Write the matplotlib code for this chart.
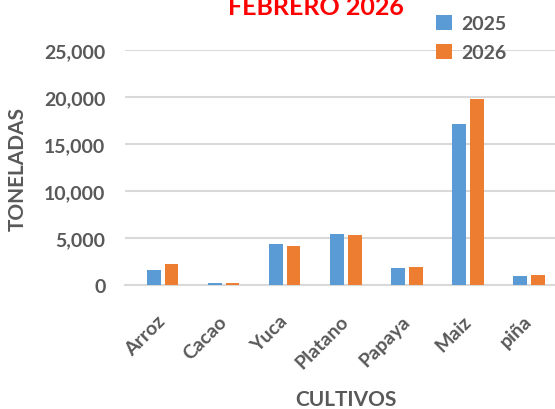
import matplotlib.pyplot as plt
import numpy as np
from matplotlib.ticker import FuncFormatter
from matplotlib.transforms import ScaledTranslation
from matplotlib.font_manager import FontProperties

plt.rcParams['font.family'] = ['Lato', 'DejaVu Sans']

cultivos = ['Arroz', 'Cacao', 'Yuca', 'Platano', 'Papaya', 'Maiz', 'piña']
t2025 = [1600, 200, 4400, 5430, 1810, 17100, 960]
t2026 = [2200, 200, 4180, 5320, 1920, 19800, 1100]

gris = '#595959'
fig = plt.figure(figsize=(5.55, 4.1), dpi=100, facecolor='w')
ax = fig.add_axes([0.225, 0.3024, 0.775, 0.5732])

x = np.arange(len(cultivos))
w = 0.22
ax.bar(x - 0.145, t2025, w, color='#5b9bd5', label='2025', zorder=3)
ax.bar(x + 0.145, t2026, w, color='#ed7d31', label='2026', zorder=3)

ax.set_ylim(0, 25000)
ax.set_xlim(-0.623, 6.426)
ax.set_yticks(np.arange(0, 25001, 5000))
ax.yaxis.set_major_formatter(FuncFormatter(lambda v, p: f'{int(v):,}'))
ax.grid(axis='y', color='#d9d9d9', linewidth=1.5, zorder=0)
for s in ['top', 'right', 'left']:
    ax.spines[s].set_visible(False)
ax.spines['bottom'].set_color('#d9d9d9')
ax.spines['bottom'].set_linewidth(1.5)
ax.tick_params(axis='both', length=0, colors=gris, labelsize=14)
ax.tick_params(axis='y', pad=14)
for lab in ax.get_yticklabels():
    lab.set_fontweight('bold')

ax.set_xticks(x)
ax.set_xticklabels(cultivos, rotation=45, ha='right', rotation_mode='anchor',
                   fontweight='bold', fontsize=14, color=gris)
off = ScaledTranslation(-6 / 100, -22 / 100, fig.dpi_scale_trans)
for lab in ax.get_xticklabels():
    lab.set_transform(lab.get_transform() + off)

ax.set_ylabel('TONELADAS', fontsize=15, fontweight='bold', color=gris, labelpad=12)
fig.text(0.623, 0.01, 'CULTIVOS', fontsize=15, fontweight='bold', color=gris, ha='center')
fig.text(0.57, 0.963, 'FEBRERO 2026', fontsize=18, fontweight='bold', color='red', ha='center')

fp = FontProperties(family='Lato', weight='bold', size=14)
leg = ax.legend(loc='upper left', bbox_to_anchor=(0.683, 1.224), frameon=False,
                prop=fp, handlelength=0.8, handleheight=0.8, handletextpad=0.5,
                labelspacing=0.6)
for t in leg.get_texts():
    t.set_color(gris)
    t.set_fontproperties(fp)

plt.savefig('out.png', dpi=100)
